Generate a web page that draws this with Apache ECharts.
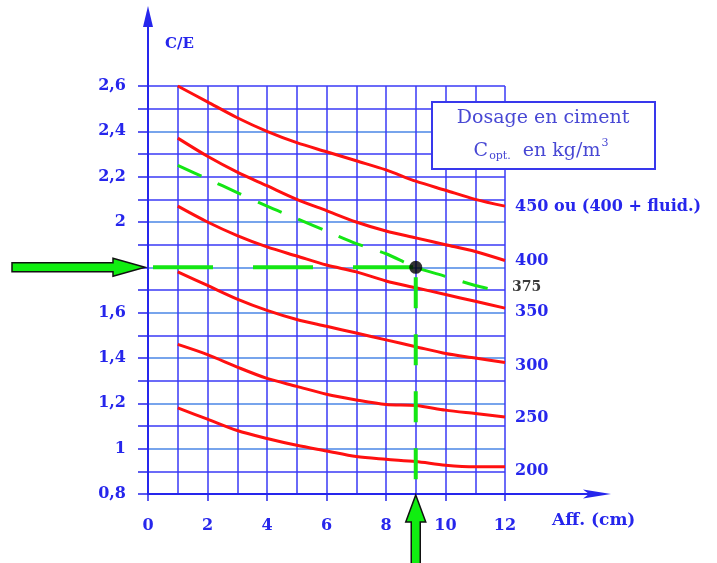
<!DOCTYPE html>
<html><head><meta charset="utf-8">
<script src="https://cdn.jsdelivr.net/npm/echarts@6/dist/echarts.min.js"></script>
<style>html,body{margin:0;padding:0;background:#fff}#c{width:717px;height:563px}</style>
</head><body><div id="c"></div>
<script>
// ---- data ----
const xValues = [1, 2, 3, 4, 5, 6, 7, 8, 9, 10, 11, 12];
const c450 = [2.60, 2.53, 2.46, 2.40, 2.35, 2.31, 2.27, 2.23, 2.18, 2.14, 2.10, 2.07];
const c400 = [2.37, 2.29, 2.22, 2.16, 2.10, 2.05, 2.00, 1.96, 1.93, 1.90, 1.87, 1.83];
const c375 = [2.25, 2.19, 2.13, 2.07, 2.015, 1.96, 1.905, 1.86, 1.80, 1.76, 1.72, 1.69];
const c350 = [2.07, 2.00, 1.94, 1.89, 1.85, 1.81, 1.78, 1.74, 1.71, 1.68, 1.65, 1.62];
const c300 = [1.78, 1.72, 1.66, 1.61, 1.57, 1.54, 1.51, 1.48, 1.45, 1.42, 1.40, 1.38];
const c250 = [1.46, 1.415, 1.36, 1.31, 1.275, 1.24, 1.215, 1.195, 1.19, 1.17, 1.155, 1.14];
const c200 = [1.18, 1.13, 1.08, 1.045, 1.015, 0.99, 0.965, 0.953, 0.943, 0.927, 0.92, 0.92];
const curveNames = ['450 ou (400 + fluid.)', '400', '375', '350', '300', '250', '200'];
const readX = [0, 9];          // Aff. read
const readY = [0.8, 1.8];      // C/E read
const xTickLabels = ['0', '2', '4', '6', '8', '10', '12'];
// the 1,8 label is hidden under the green arrow in the original
const yTickLabels = ['0,8', '', '1', '', '1,2', '', '1,4', '', '1,6', '', '', '', '2', '', '2,2', '', '2,4', '', '2,6'];
const xAxisName = 'Aff. (cm)';
const yAxisName = 'C/E';
const boxLine1 = 'Dosage en ciment';

// ---- styles ----
const BLUE = '#2626ec';
const GDARK = '#3a3af6';
const GLIGHT = '#4a86e6';
const GREEN = '#14e614';
const BOXTXT = '#4848d4';
const FONT = 'DejaVu Serif';

const pairs = arr => xValues.map((x, i) => [x, arr[i]]);
const gridColors = [GDARK, GDARK, GLIGHT, GDARK, GLIGHT, GDARK, GLIGHT, GDARK, GLIGHT, GDARK, GLIGHT, GDARK, GLIGHT, GDARK, GDARK, GDARK, GLIGHT, GDARK, GDARK];

function redSeries(name, arr, dy) {
  return {
    type: 'line', name: name, data: pairs(arr), smooth: 0.3, showSymbol: false,
    lineStyle: { color: '#ff1010', width: 3 },
    endLabel: { show: true, formatter: name, distance: 10, offset: [0, dy],
      color: BLUE, fontFamily: FONT, fontWeight: 'bold', fontSize: 16 },
    z: 3
  };
}

const chart = echarts.init(document.getElementById('c'), null, { renderer: 'canvas' });
const option = {
  animation: false,
  backgroundColor: '#ffffff',
  grid: { left: 148, right: 212, top: 86, bottom: 69, containLabel: false },
  xAxis: {
    type: 'value', min: 0, max: 12, interval: 2,
    axisLine: { show: true, onZero: false, lineStyle: { color: BLUE, width: 2 } },
    axisTick: { show: true, length: 7, lineStyle: { color: BLUE, width: 1.5 } },
    axisLabel: { margin: 24, color: BLUE, fontFamily: FONT, fontWeight: 'bold', fontSize: 16,
      showMinLabel: true, showMaxLabel: true,
      formatter: v => xTickLabels[Math.round(v / 2)] },
    splitLine: { show: true, lineStyle: { color: GDARK, width: 1.5 } },
    minorTick: { show: false, splitNumber: 2 },
    minorSplitLine: { show: true, lineStyle: { color: GDARK, width: 1.5 } }
  },
  yAxis: {
    type: 'value', min: 0.8, max: 2.6, interval: 0.1,
    axisLine: { show: true, onZero: false, lineStyle: { color: BLUE, width: 2 } },
    axisTick: { show: true, length: 10, lineStyle: { color: BLUE, width: 1.5 } },
    axisLabel: { margin: 22, color: BLUE, fontFamily: FONT, fontWeight: 'bold', fontSize: 16,
      showMinLabel: true, showMaxLabel: true,
      formatter: v => yTickLabels[Math.round((v - 0.8) * 10)] || '' },
    splitLine: { show: true, lineStyle: { color: gridColors, width: 1.5 } }
  },
  series: [
    redSeries(curveNames[0], c450, 1),
    redSeries(curveNames[1], c400, 0),
    {
      type: 'line', name: curveNames[2], data: pairs(c375), smooth: 0.3, showSymbol: false,
      lineStyle: { color: GREEN, width: 3, type: [26, 18] },
      endLabel: { show: true, formatter: curveNames[2], distance: 7, offset: [0, -5],
        color: '#3a3a3a', fontFamily: FONT, fontWeight: 'bold', fontSize: 14 },
      z: 4
    },
    redSeries(curveNames[3], c350, 4),
    redSeries(curveNames[4], c300, 3),
    redSeries(curveNames[5], c250, 1),
    redSeries(curveNames[6], c200, 4),
    {
      type: 'line', data: [[readX[0], readY[1]], [readX[1], readY[1]]], showSymbol: false,
      lineStyle: { color: GREEN, width: 4, type: [60, 40], dashOffset: 95 }, z: 4
    },
    {
      type: 'line', data: [[readX[1], readY[1]], [readX[1], readY[0]]], showSymbol: false,
      lineStyle: { color: GREEN, width: 4, type: [31, 26], dashOffset: 47 }, z: 4
    },
    {
      type: 'scatter', data: [[readX[1], readY[1]]], symbolSize: 13,
      itemStyle: { color: '#000000' }, z: 6
    }
  ]
};
chart.setOption(option);

const O = chart.convertToPixel({ gridIndex: 0 }, [0, 0.8]);
const TR = chart.convertToPixel({ gridIndex: 0 }, [12, 2.6]);
const P = chart.convertToPixel({ gridIndex: 0 }, [readX[1], readY[1]]);
const ax = O[0], ay = O[1];

const arrowFill = { fill: '#10ee10', stroke: '#111111', lineWidth: 1.5 };
const hy = P[1], hx = ax - 3;
const vx = P[0], vy = ay + 1;

chart.setOption({
  graphic: [
    { type: 'line', shape: { x1: ax, y1: TR[1], x2: ax, y2: 22 }, style: { stroke: BLUE, lineWidth: 2 }, z: 10 },
    { type: 'polygon', shape: { points: [[ax, 6], [ax - 5, 27], [ax + 5, 27]] }, style: { fill: BLUE }, z: 10 },
    { type: 'line', shape: { x1: TR[0], y1: ay, x2: 590, y2: ay }, style: { stroke: BLUE, lineWidth: 2 }, z: 10 },
    { type: 'polygon', shape: { points: [[611, ay], [583, ay - 4.5], [589, ay], [583, ay + 4.5]] }, style: { fill: BLUE }, z: 10 },
    { type: 'text', x: ax + 17, y: 44, style: { text: yAxisName, fill: BLUE, font: 'bold 15px "DejaVu Serif"', textVerticalAlign: 'middle' }, z: 10 },
    { type: 'text', x: 552, y: 521, style: { text: xAxisName, fill: BLUE, font: 'bold 17px "DejaVu Serif"', textVerticalAlign: 'middle' }, z: 10 },
    { type: 'rect', shape: { x: 432, y: 102, width: 223, height: 67 }, style: { fill: '#ffffff', stroke: '#3838ec', lineWidth: 2 }, z: 20 },
    { type: 'text', x: 543, y: 118, style: { text: boxLine1, fill: BOXTXT, font: '19px "DejaVu Serif"', textAlign: 'center', textVerticalAlign: 'middle' }, z: 21 },
    { type: 'text', x: 541, y: 151, style: {
        text: '{a|C}{b|opt.}{a|  en kg/m}{c|3}', textAlign: 'center', textVerticalAlign: 'middle',
        rich: {
          a: { fontFamily: FONT, fontSize: 19, fill: BOXTXT, lineHeight: 26, verticalAlign: 'middle' },
          b: { fontFamily: FONT, fontSize: 11, fill: BOXTXT, lineHeight: 26, verticalAlign: 'bottom', padding: [0, 0, 2, 1] },
          c: { fontFamily: FONT, fontSize: 11, fill: BOXTXT, lineHeight: 26, verticalAlign: 'top', padding: [0, 0, 0, 1] }
        } }, z: 21 },
    { type: 'polygon', shape: { points: [[12, hy - 4.5], [113, hy - 4.5], [113, hy - 9], [hx, hy], [113, hy + 9], [113, hy + 4.5], [12, hy + 4.5]] }, style: arrowFill, z: 30 },
    { type: 'polygon', shape: { points: [[vx, vy], [vx + 10, vy + 27], [vx + 4.5, vy + 27], [vx + 4.5, 570], [vx - 4.5, 570], [vx - 4.5, vy + 27], [vx - 10, vy + 27]] }, style: arrowFill, z: 30 }
  ]
});
</script></body></html>
